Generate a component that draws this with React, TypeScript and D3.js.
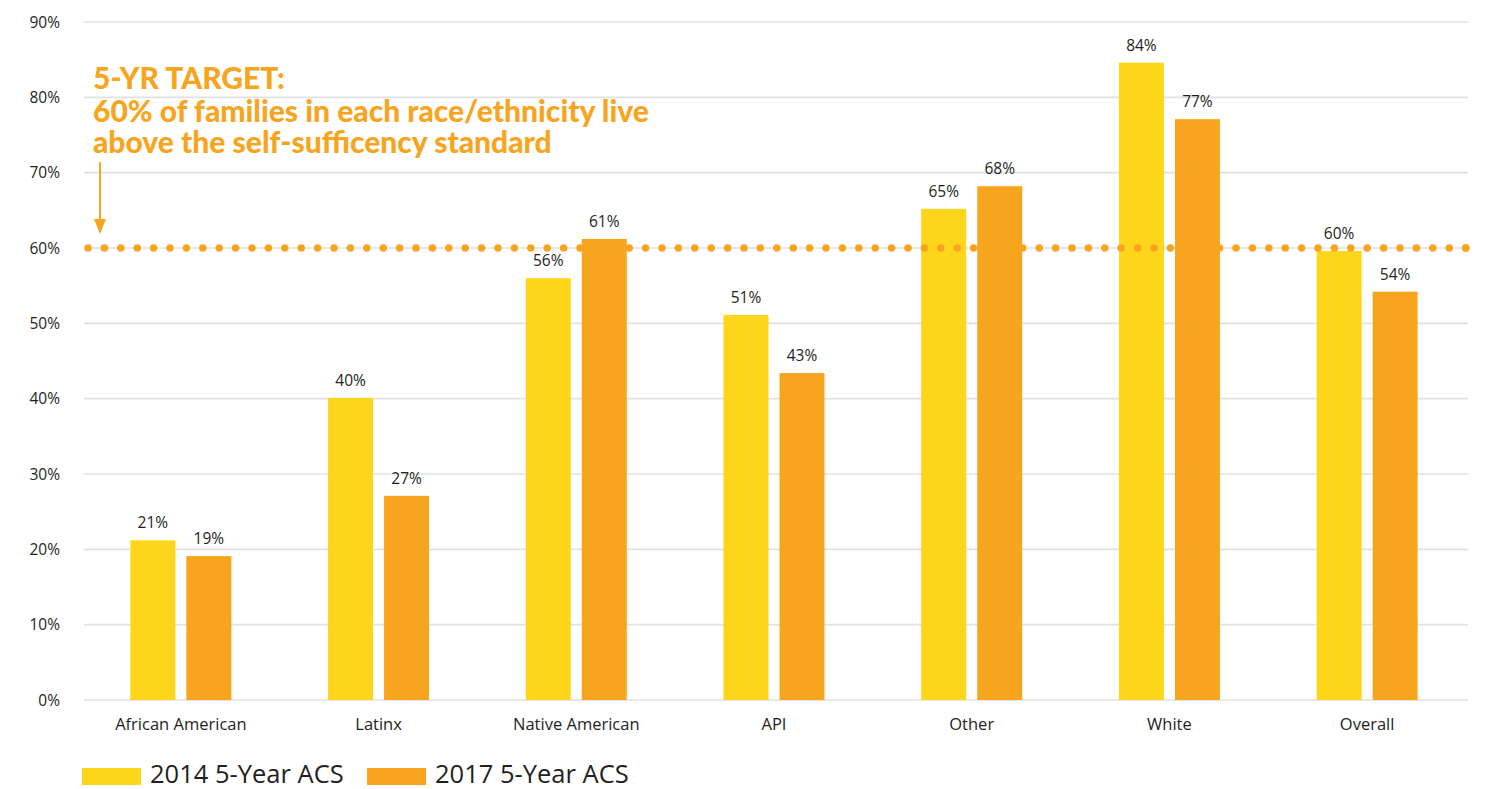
import React, { useEffect } from "react";
import * as d3 from "d3";

const categories = ["African American", "Latinx", "Native American", "API", "Other", "White", "Overall"];
const series2014 = [21.2, 40.1, 56.0, 51.1, 65.2, 84.6, 59.6];
const series2017 = [19.1, 27.1, 61.2, 43.4, 68.2, 77.1, 54.2];
const labels2014 = ["21%", "40%", "56%", "51%", "65%", "84%", "60%"];
const labels2017 = ["19%", "27%", "61%", "43%", "68%", "77%", "54%"];
const yTicks = [0, 10, 20, 30, 40, 50, 60, 70, 80, 90];
const seriesNames = ["2014 5-Year ACS", "2017 5-Year ACS"];
const targetValue = 60;
const annotationLines = [
  "5-YR TARGET:",
  "60% of families in each race/ethnicity live",
  "above the self-sufficency standard",
];

const W = 1492;
const H = 789;
const YELLOW = "#FDD51A";
const ORANGE = "#F7A51E";
const TEXT = "#231F20";
const GRID = "#E1E1E1";
const FONT = "'Open Sans', sans-serif";

export default function App() {
  useEffect(() => {
    document.body.style.margin = "0";
  }, []);

  const left = 84;
  const right = 1468;
  const top = 22;
  const bottom = 700;

  const x0 = d3.scaleBand().domain(categories).range([left, right]).paddingInner(0).paddingOuter(0);
  const y = d3.scaleLinear().domain([0, 90]).range([bottom, top]);
  const barW = 45;
  const gap = 11;

  const bars = categories.map((c, i) => {
    const cx = (x0(c) as number) + x0.bandwidth() / 2 - 2;
    return { c, cx, v1: series2014[i], v2: series2017[i], l1: labels2014[i], l2: labels2017[i] };
  });

  return (
    <svg width={W} height={H} style={{ display: "block" }}>
      <rect width={W} height={H} fill="#fff" />
      {yTicks.map((t) => (
        <g key={t}>
          <line x1={left} x2={right} y1={y(t)} y2={y(t)} stroke={GRID} strokeWidth={1.6} />
          <text x={60} y={y(t)} dy="0.36em" textAnchor="end" fontFamily={FONT} fontSize={15.5} fill={TEXT}>
            {t}%
          </text>
        </g>
      ))}
      {bars.map((b) => (
        <g key={b.c}>
          <rect x={b.cx - gap / 2 - barW} y={y(b.v1)} width={barW} height={bottom - y(b.v1)} fill={YELLOW} />
          <rect x={b.cx + gap / 2} y={y(b.v2)} width={barW} height={bottom - y(b.v2)} fill={ORANGE} />
          <text x={b.cx - gap / 2 - barW / 2} y={y(b.v1) - 12} textAnchor="middle" fontFamily={FONT} fontSize={15.5} fill={TEXT}>
            {b.l1}
          </text>
          <text x={b.cx + gap / 2 + barW / 2} y={y(b.v2) - 12} textAnchor="middle" fontFamily={FONT} fontSize={15.5} fill={TEXT}>
            {b.l2}
          </text>
          <text x={b.cx} y={730} textAnchor="middle" fontFamily={FONT} fontSize={16.5} fill={TEXT}>
            {b.c}
          </text>
        </g>
      ))}
      <line
        x1={88}
        x2={1466}
        y1={y(targetValue)}
        y2={y(targetValue)}
        stroke={ORANGE}
        strokeWidth={7.5}
        strokeLinecap="round"
        strokeDasharray="0 16.4"
      />
      <circle cx={1466} cy={y(targetValue)} r={3.75} fill={ORANGE} />
      {annotationLines.map((l, i) => (
        <text
          key={i}
          x={93}
          y={[89, 122, 153][i]}
          fontFamily="Lato, sans-serif"
          fontWeight={900}
          fontSize={30}
          fill={ORANGE}
        >
          {l}
        </text>
      ))}
      <line x1={100} x2={100} y1={162} y2={222} stroke={ORANGE} strokeWidth={2} />
      <path d="M94,219 L106,219 L100,234 Z" fill={ORANGE} />
      {seriesNames.map((s, i) => {
        const lx = [82, 367][i];
        return (
          <g key={s}>
            <rect x={lx} y={768} width={59} height={17} fill={i === 0 ? YELLOW : ORANGE} />
            <text x={lx + 68} y={783} fontFamily={FONT} fontSize={25.5} fill={TEXT}>
              {s}
            </text>
          </g>
        );
      })}
    </svg>
  );
}
